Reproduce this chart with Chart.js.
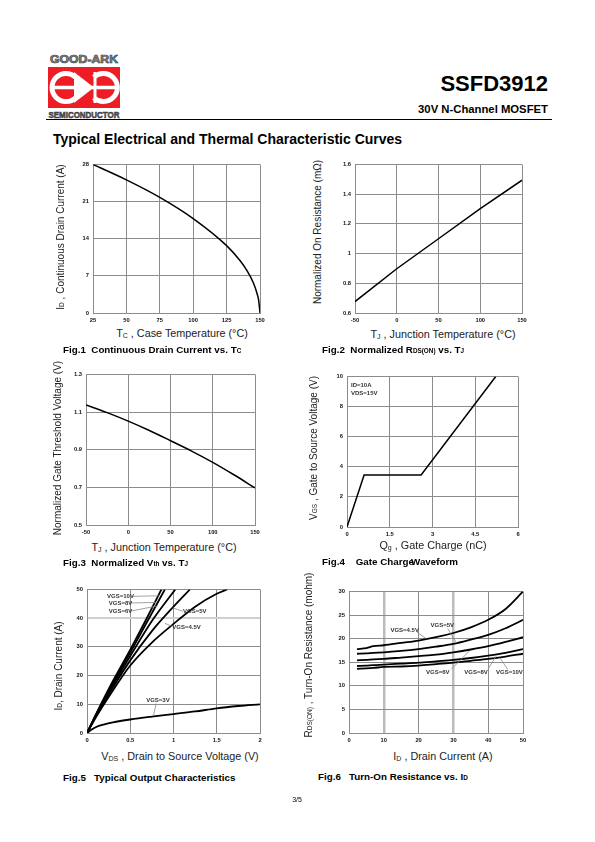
<!DOCTYPE html>
<html>
<head>
<meta charset="utf-8">
<script src="https://cdn.jsdelivr.net/npm/chart.js@4.4.1/dist/chart.umd.min.js"></script>
<style>
  body { margin: 0; width: 595px; height: 842px; background: #fff; position: relative; overflow: hidden;
         font-family: "Liberation Sans", Arial, sans-serif; color: #000; }
  .abs { position: absolute; white-space: nowrap; }
  canvas { position: absolute; }
  .cap { font-weight: bold; font-size: 9.8px; transform: translateY(-50%); }
  .ax { font-size: 10px; color: #222; }
  .xt { transform: translate(-50%, -50%); font-size: 10.8px; }
  .yt { transform: translate(-50%, -50%) rotate(-90deg); }
  sub { font-size: 0.65em; vertical-align: -0.15em; line-height: 0; }
</style>
</head>
<body>

<svg class="abs" style="left:47px;top:50px" width="74" height="70" viewBox="0 0 74 70">
  <text x="37" y="12.5" text-anchor="middle" font-family="Liberation Sans" font-weight="bold" font-size="10.5"
        fill="#8a8a8a" stroke="#3a3a3a" stroke-width="0.6" textLength="68" lengthAdjust="spacingAndGlyphs">GOOD-ARK</text>
  <rect x="1" y="17" width="72" height="41" fill="#ee1c25"/>
  <path d="M 28.9 27.6 A 14 14 0 1 0 28.9 47.4" fill="none" stroke="#fff" stroke-width="5"/>
  <path d="M 46.8 27.3 A 14 14 0 1 1 46.8 47.7" fill="none" stroke="#fff" stroke-width="5"/>
  <line x1="5" y1="37.5" x2="70" y2="37.5" stroke="#fff" stroke-width="3.5"/>
  <polygon points="27,22 27,53 47,37.5" fill="#fff"/>
  <line x1="48" y1="22" x2="48" y2="53" stroke="#fff" stroke-width="3"/>
  <text x="37" y="67.5" text-anchor="middle" font-family="Liberation Sans" font-weight="bold" font-size="9.5"
        fill="#5a5a5a" stroke="#2a2a2a" stroke-width="0.5" textLength="71" lengthAdjust="spacingAndGlyphs">SEMICONDUCTOR</text>
</svg>

<div class="abs" style="right:47px;top:72.5px;font-size:22px;font-weight:bold;line-height:1">SSFD3912</div>
<div class="abs" style="right:47px;top:103.5px;font-size:11.3px;font-weight:bold;line-height:1">30V N-Channel MOSFET</div>
<div class="abs" style="left:46px;top:119px;width:506px;height:1px;background:#000"></div>
<div class="abs" style="left:53px;top:132px;font-size:14px;font-weight:bold;line-height:1">Typical Electrical and Thermal Characteristic Curves</div>

<canvas id="fig1"></canvas>
<canvas id="fig2"></canvas>
<canvas id="fig3"></canvas>
<canvas id="fig4"></canvas>
<canvas id="fig5"></canvas>
<canvas id="fig6"></canvas>

<!-- axis titles -->
<div class="abs ax yt" style="left:60px;top:237px">I<sub>D</sub> , Continuous Drain Current (A)</div>
<div class="abs ax xt" style="left:182px;top:333px">T<sub>C</sub> , Case Temperature (°C)</div>
<div class="abs ax yt" style="left:317px;top:232px">Normalized On Resistance (mΩ)</div>
<div class="abs ax xt" style="left:443px;top:334px">T<sub>J</sub> , Junction Temperature (°C)</div>
<div class="abs ax yt" style="left:57px;top:448px">Normalized Gate Threshold Voltage (V)</div>
<div class="abs ax xt" style="left:164px;top:547px">T<sub>J</sub> , Junction Temperature (°C)</div>
<div class="abs ax yt" style="left:313px;top:448px">V<sub>GS</sub> , Gate to Source Voltage (V)</div>
<div class="abs ax xt" style="left:433px;top:545px">Q<sub>g</sub> , Gate Charge (nC)</div>
<div class="abs ax yt" style="left:58px;top:666px">I<sub>D</sub>, Drain Current (A)</div>
<div class="abs ax xt" style="left:180px;top:756px">V<sub>DS</sub> , Drain to Source Voltage (V)</div>
<div class="abs ax yt" style="left:308px;top:655px">R<sub>DS(ON)</sub> , Turn-On Resistance (mohm)</div>
<div class="abs ax xt" style="left:443px;top:756px">I<sub>D</sub> , Drain Current (A)</div>

<!-- captions -->
<div class="abs cap" style="left:63px;top:349px">Fig.1&nbsp; Continuous Drain Current vs. T<sub>C</sub></div>
<div class="abs cap" style="left:322px;top:349px">Fig.2&nbsp; Normalized R<sub>DS(ON)</sub> vs. T<sub>J</sub></div>
<div class="abs cap" style="left:63px;top:562px">Fig.3&nbsp; Normalized V<sub>th</sub> vs. T<sub>J</sub></div>
<div class="abs cap" style="left:322px;top:561px">Fig.4&nbsp;&nbsp;&nbsp; Gate Charge<span style="margin-left:-3px">Waveform</span></div>
<div class="abs cap" style="left:63px;top:777px">Fig.5&nbsp;&nbsp; Typical Output Characteristics</div>
<div class="abs cap" style="left:318px;top:776px">Fig.6&nbsp;&nbsp; Turn-On Resistance vs. I<sub>D</sub></div>

<div class="abs" style="left:297px;top:799px;font-size:7px;transform:translate(-50%,-50%)">3/5</div>

<script>
// Fig.1  ID vs TC
const fig1Temp = [25, 50, 75, 100, 125, 135, 140, 145, 148, 149, 150];
const fig1Id = [28, 25.1, 21.8, 17.8, 12.7, 9.9, 8.1, 5.7, 3.5, 2.4, 0];
const fig1XTicks = [25, 50, 75, 100, 125, 150];
const fig1YTicks = [0, 7, 14, 21, 28];

// Fig.2  normalized RDS(on) vs TJ
const fig2Temp = [-50, 0, 50, 100, 150];
const fig2Rds = [0.677, 0.898, 1.1, 1.302, 1.494];
const fig2XTicks = [-50, 0, 50, 100, 150];
const fig2YTicks = [0.6, 0.8, 1, 1.2, 1.4, 1.6];

// Fig.3  normalized Vth vs TJ
const fig3Temp = [-50, -25, 0, 25, 50, 75, 100, 125, 150];
const fig3Vth = [1.138, 1.097, 1.052, 1.002, 0.948, 0.893, 0.833, 0.767, 0.697];
const fig3XTicks = [-50, 0, 50, 100, 150];
const fig3YTicks = [0.5, 0.7, 0.9, 1.1, 1.3];

// Fig.4  gate charge
const fig4Qg = [0, 0.6, 2.6, 5.22];
const fig4Vgs = [0, 3.45, 3.45, 10];
const fig4XTicks = [0, 1.5, 3, 4.5, 6];
const fig4YTicks = [0, 2, 4, 6, 8, 10];

// Fig.5  output characteristics (VDS, ID) per VGS
const fig5Vds10 = [0, 0.1, 0.25, 0.5, 0.7, 0.86];
const fig5Id10 = [0, 6.3, 15.3, 29, 40.5, 50];
const fig5Vds8 = [0, 0.1, 0.25, 0.5, 0.7, 0.9];
const fig5Id8 = [0, 6.1, 14.8, 28, 39, 50];
const fig5Vds6 = [0, 0.1, 0.25, 0.5, 0.75, 1.02];
const fig5Id6 = [0, 5.9, 14.2, 26.8, 39, 50];
const fig5Vds5 = [0, 0.1, 0.25, 0.5, 0.75, 1.0, 1.19];
const fig5Id5 = [0, 5.6, 13.4, 25.3, 35.5, 44, 50];
const fig5Vds45 = [0, 0.1, 0.25, 0.5, 0.75, 1.0, 1.25, 1.5, 1.62];
const fig5Id45 = [0, 5.3, 12.5, 23.5, 31.5, 38, 44, 48.5, 50];
const fig5Vds3 = [0, 0.05, 0.1, 0.2, 0.3, 0.5, 0.75, 1, 1.25, 1.5, 1.75, 2];
const fig5Id3 = [0, 1.1, 2.0, 3.0, 3.7, 4.7, 5.7, 6.6, 7.5, 8.6, 9.4, 10];
const fig5XTicks = [0, 0.5, 1, 1.5, 2];
const fig5YTicks = [0, 10, 20, 30, 40, 50];
const fig5Labels = ["VGS=10V", "VGS=8V", "VGS=6V", "VGS=5V", "VGS=4.5V", "VGS=3V"];

// Fig.6  RDS(on) vs ID per VGS
const fig6Id = [2.3, 5, 7, 10, 15, 20, 25, 30, 35, 40, 45, 50];
const fig6R45 = [17.8, 18.0, 18.4, 18.6, 19.1, 19.6, 20.3, 21.2, 22.4, 24.0, 26.3, 30.0];
const fig6R5 = [16.8, 16.9, 17.0, 17.1, 17.4, 17.8, 18.3, 18.9, 19.8, 20.8, 22.2, 24.0];
const fig6R6 = [15.4, 15.5, 15.6, 15.7, 16.0, 16.3, 16.6, 17.1, 17.7, 18.4, 19.3, 20.3];
const fig6R8 = [14.2, 14.3, 14.4, 14.5, 14.7, 14.9, 15.2, 15.5, 15.9, 16.4, 17.0, 17.8];
const fig6R10 = [13.6, 13.7, 13.8, 14.0, 14.1, 14.3, 14.6, 14.9, 15.3, 15.7, 16.2, 16.8];
const fig6XTicks = [0, 10, 20, 30, 40, 50];
const fig6YTicks = [0, 5, 10, 15, 20, 25, 30];
const fig6Labels = ["VGS=4.5V", "VGS=5V", "VGS=6V", "VGS=8V", "VGS=10V"];

const FONT = '"Liberation Sans", Arial, sans-serif';
const GRID = "#8c8c8c";

// small text + leader lines, placed in data units
const notesPlugin = {
  id: "notes",
  afterDatasetsDraw(chart, args, opts) {
    const { ctx } = chart;
    const x = chart.scales.x, y = chart.scales.y;
    ctx.save();
    ctx.strokeStyle = "#8a8a8a";
    ctx.lineWidth = 0.8;
    (opts.leaders || []).forEach((l) => {
      ctx.beginPath();
      ctx.moveTo(x.getPixelForValue(l[0]), y.getPixelForValue(l[1]));
      ctx.lineTo(x.getPixelForValue(l[2]), y.getPixelForValue(l[3]));
      ctx.stroke();
    });
    ctx.font = "bold 6px " + FONT;
    ctx.fillStyle = "#333";
    ctx.textBaseline = "middle";
    ctx.textAlign = opts.align || "center";
    (opts.texts || []).forEach((t) => {
      ctx.fillText(t[0], x.getPixelForValue(t[1]), y.getPixelForValue(t[2]));
    });
    ctx.restore();
  },
};

function axis(min, max, ticks, extra) {
  return Object.assign(
    {
      type: "linear",
      min: min,
      max: max,
      afterBuildTicks: (s) => {
        s.ticks = ticks.map((v) => ({ value: v }));
      },
      afterFit: (s) => {
        if (s.isHorizontal()) s.height = 14;
        else s.width = 30;
      },
      grid: { color: GRID, lineWidth: 1, drawTicks: false },
      border: { color: GRID },
      ticks: {
        padding: 4,
        color: "#111",
        font: { family: FONT, size: 5.8, weight: "bold" },
        maxRotation: 0,
        autoSkip: false,
        callback: (v) => String(v),
      },
    },
    extra || {}
  );
}

function line(xs, ys, smooth, width) {
  return {
    data: xs.map((x, i) => ({ x: x, y: ys[i] })),
    borderColor: "#000",
    borderWidth: width || 1.5,
    pointRadius: 0,
    fill: false,
    tension: 0,
    cubicInterpolationMode: smooth ? "monotone" : "default",
  };
}

// box = plot area on the page: left, top, right, bottom
function makeChart(id, box, datasets, xScale, yScale, notes) {
  const c = document.getElementById(id);
  const padL = 30, padT = 6, padR = 12, padB = 14;
  c.width = box[2] - box[0] + padL + padR;
  c.height = box[3] - box[1] + padT + padB;
  c.style.left = box[0] - padL + "px";
  c.style.top = box[1] - padT + "px";
  return new Chart(c, {
    type: "line",
    data: { datasets: datasets },
    options: {
      responsive: false,
      animation: false,
      devicePixelRatio: 1,
      layout: { autoPadding: false, padding: { left: 0, top: padT, right: padR, bottom: 0 } },
      plugins: { legend: { display: false }, tooltip: { enabled: false }, notes: notes || {} },
      scales: { x: xScale, y: yScale },
    },
    plugins: [notesPlugin],
  });
}

makeChart("fig1", [93, 163, 260, 313],
  [line(fig1Temp, fig1Id, true)],
  axis(25, 150, fig1XTicks), axis(0, 28, fig1YTicks));

makeChart("fig2", [355, 163, 522, 313],
  [line(fig2Temp, fig2Rds, false)],
  axis(-50, 150, fig2XTicks), axis(0.6, 1.6, fig2YTicks));

makeChart("fig3", [86, 373, 255, 525],
  [line(fig3Temp, fig3Vth, true)],
  axis(-50, 150, fig3XTicks), axis(0.5, 1.3, fig3YTicks));

makeChart("fig4", [347, 375, 518, 527],
  [line(fig4Qg, fig4Vgs, false)],
  axis(0, 6, fig4XTicks), axis(0, 10, fig4YTicks),
  { align: "left", texts: [["ID=10A", 0.14, 9.4], ["VDS=15V", 0.14, 8.85]] });

makeChart("fig5", [87, 588, 260, 733],
  [
    line(fig5Vds10, fig5Id10, true, 1.8),
    line(fig5Vds8, fig5Id8, true, 1.8),
    line(fig5Vds6, fig5Id6, true, 1.8),
    line(fig5Vds5, fig5Id5, true, 1.8),
    line(fig5Vds45, fig5Id45, true, 1.8),
    line(fig5Vds3, fig5Id3, true, 1.8),
  ],
  axis(0, 2, fig5XTicks),
  axis(0, 50, fig5YTicks, {
    grid: {
      drawTicks: false,
      color: (c) => (c.tick && c.tick.value === 40 ? "#d0d0d0" : GRID),
      lineWidth: (c) => (c.tick && c.tick.value === 40 ? 2 : 1),
    },
  }),
  {
    texts: [
      [fig5Labels[0], 0.387, 47.6],
      [fig5Labels[1], 0.387, 45.3],
      [fig5Labels[2], 0.387, 42.5],
      [fig5Labels[3], 1.247, 42.4],
      [fig5Labels[4], 1.151, 36.7],
      [fig5Labels[5], 0.82, 11.5],
    ],
    leaders: [
      [0.53, 47.6, 0.83, 47.8],
      [0.51, 45.3, 0.8, 45.5],
      [0.51, 42.5, 0.82, 44.3],
      [1.11, 42.4, 0.99, 43.6],
      [0.99, 37.1, 0.9, 38.2],
      [0.8, 10.3, 0.77, 6.1],
    ],
  });

makeChart("fig6", [349, 590, 523, 733],
  [
    line(fig6Id, fig6R45, true, 1.8),
    line(fig6Id, fig6R5, true, 1.8),
    line(fig6Id, fig6R6, true, 1.8),
    line(fig6Id, fig6R8, true, 1.8),
    line(fig6Id, fig6R10, true, 1.8),
  ],
  axis(0, 50, fig6XTicks, {
    grid: {
      drawTicks: false,
      color: (c) => (c.tick && (c.tick.value === 10 || c.tick.value === 30) ? "#bcbcbc" : GRID),
      lineWidth: (c) => (c.tick && (c.tick.value === 10 || c.tick.value === 30) ? 2.5 : 1),
    },
  }),
  axis(0, 30, fig6YTicks),
  {
    texts: [
      [fig6Labels[0], 16, 21.8],
      [fig6Labels[1], 26.8, 22.9],
      [fig6Labels[2], 25.5, 12.9],
      [fig6Labels[3], 36.5, 12.9],
      [fig6Labels[4], 46.1, 12.9],
    ],
    leaders: [
      [19.5, 21.4, 22.2, 20.0],
      [28.4, 22.1, 30.8, 19.2],
      [29.4, 13.5, 34.6, 17.4],
      [39.9, 13.5, 42.3, 16.3],
      [45.6, 13.5, 43.3, 16.0],
    ],
  });
</script>
</body>
</html>
